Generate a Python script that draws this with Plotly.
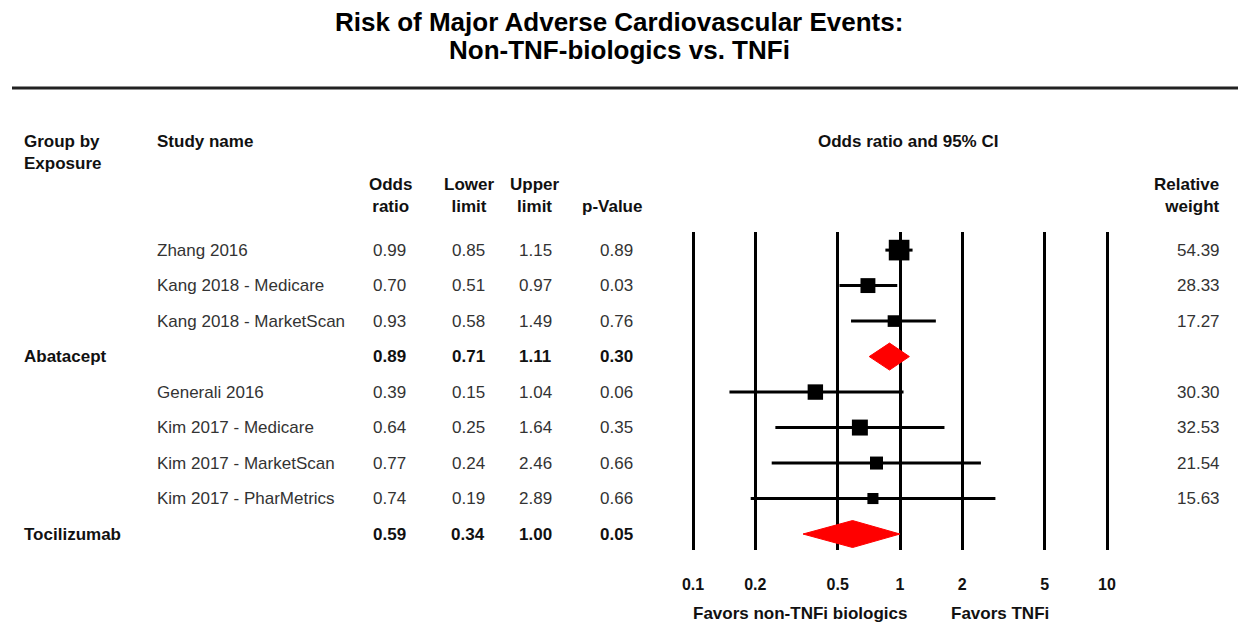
import plotly.graph_objects as go

# ---------------- data ----------------
groups = ["Abatacept", "Tocilizumab"]
group_or = [0.89, 0.59]
group_lo = [0.71, 0.34]
group_hi = [1.11, 1.00]
group_p = [0.30, 0.05]

studies = ["Zhang 2016", "Kang 2018 - Medicare", "Kang 2018 - MarketScan",
           "Generali 2016", "Kim 2017 - Medicare", "Kim 2017 - MarketScan",
           "Kim 2017 - PharMetrics"]
study_group = ["Abatacept", "Abatacept", "Abatacept",
               "Tocilizumab", "Tocilizumab", "Tocilizumab", "Tocilizumab"]
study_or = [0.99, 0.70, 0.93, 0.39, 0.64, 0.77, 0.74]
study_lo = [0.85, 0.51, 0.58, 0.15, 0.25, 0.24, 0.19]
study_hi = [1.15, 0.97, 1.49, 1.04, 1.64, 2.46, 2.89]
study_p = [0.89, 0.03, 0.76, 0.06, 0.35, 0.66, 0.66]
study_w = [54.39, 28.33, 17.27, 30.30, 32.53, 21.54, 15.63]

tick_vals = [0.1, 0.2, 0.5, 1, 2, 5, 10]
tick_text = ["0.1", "0.2", "0.5", "1", "2", "5", "10"]

# ---------------- layout constants ----------------
W, H = 1238, 625
PT, PB = 232, 550          # plot area top/bottom in px
FONT = "Liberation Sans, Arial, sans-serif"
TXT = "#333333"


def px(x):
    return x / W


def py(y):
    return (PB - y) / (PB - PT)


# build rows
rows = []  # (kind, index)
for g_i, g in enumerate(groups):
    for s_i, sg in enumerate(study_group):
        if sg == g:
            rows.append(("s", s_i))
    rows.append(("g", g_i))

fig = go.Figure()

# whiskers
wx, wy = [], []
mx, my, ms = [], [], []
for r, (kind, i) in enumerate(rows):
    if kind == "s":
        wx += [study_lo[i], study_hi[i], None]
        wy += [r, r, None]
        mx.append(study_or[i])
        my.append(r)
        ms.append(2.8 * study_w[i] ** 0.5)

fig.add_trace(go.Scatter(x=wx, y=wy, mode="lines",
                         line=dict(color="black", width=3),
                         hoverinfo="skip", showlegend=False))
fig.add_trace(go.Scatter(x=mx, y=my, mode="markers",
                         marker=dict(symbol="square", size=ms, color="black",
                                     opacity=1, line=dict(width=0)),
                         showlegend=False))

# diamonds
h = 0.38
for r, (kind, i) in enumerate(rows):
    if kind == "g":
        fig.add_trace(go.Scatter(
            x=[group_lo[i], group_or[i], group_hi[i], group_or[i], group_lo[i]],
            y=[r, r - h, r, r + h, r],
            mode="lines", fill="toself", fillcolor="#ff0000",
            line=dict(color="#ff0000", width=1),
            hoverinfo="skip", showlegend=False))

ann = []


def add(text, x, y, yref="paper", xanchor="center", size=17, bold=False,
        color=TXT, align="center"):
    if bold:
        text = "<b>" + text.replace("<br>", "</b><br><b>") + "</b>"
    ann.append(dict(text=text, x=x, y=y, xref="paper", yref=yref,
                    xanchor=xanchor, yanchor="middle", showarrow=False,
                    align=align,
                    font=dict(family=FONT, size=size, color=color)))


# title
add("Risk of Major Adverse Cardiovascular Events:", px(619), py(22), size=26,
    bold=True, color="black")
add("Non-TNF-biologics vs. TNFi", px(619), py(50), size=26, bold=True,
    color="black")

# headers
add("Group by<br>Exposure", px(22), py(152), xanchor="left", bold=True,
    color="#111", align="left")
add("Study name", px(155), py(141), xanchor="left", bold=True, color="#111")
add("Odds<br>ratio", px(390), py(195.5), bold=True, color="#111")
add("Lower<br>limit", px(469), py(195.5), bold=True, color="#111")
add("Upper<br>limit", px(535), py(195.5), bold=True, color="#111")
add("p-Value", px(612), py(207), bold=True, color="#111")
add("Odds ratio and 95% CI", px(908), py(141), bold=True, color="#111")
add("Relative<br>weight", px(1222), py(195.5), xanchor="right", bold=True,
    color="#111", align="right")

# rows
for r, (kind, i) in enumerate(rows):
    if kind == "s":
        vals = [study_or[i], study_lo[i], study_hi[i], study_p[i]]
        add(studies[i], px(155), r, yref="y", xanchor="left")
        add(f"{study_w[i]:.2f}", px(1222), r, yref="y", xanchor="right")
        b = False
    else:
        vals = [group_or[i], group_lo[i], group_hi[i], group_p[i]]
        add(groups[i], px(22), r, yref="y", xanchor="left", bold=True,
            color="#111")
        b = True
    for v, cx in zip(vals, [389, 468, 535, 616]):
        add(f"{v:.2f}", px(cx), r, yref="y", bold=b, color="#111" if b else TXT)

# axis captions
add("Favors non-TNFi biologics", px(800), py(613), bold=True, color="#111")
add("Favors TNFi", px(1000), py(613), bold=True, color="#111")

nrows = len(rows)
fig.update_layout(
    width=W, height=H,
    margin=dict(l=0, r=0, t=PT, b=H - PB, pad=0),
    paper_bgcolor="white", plot_bgcolor="white",
    showlegend=False,
    annotations=ann,
    shapes=[dict(type="line", xref="paper", yref="paper",
                 x0=px(12), x1=1, y0=py(88), y1=py(88),
                 line=dict(color="#222", width=3))],
    xaxis=dict(type="log", domain=[px(680), px(1120)],
               range=[-1.0628, 1.0628],
               tickvals=tick_vals,
               ticktext=["<b>" + t + "</b>" for t in tick_text],
               tickfont=dict(family=FONT, size=16, color="#111"),
               showgrid=True, gridcolor="black", gridwidth=3,
               zeroline=False, showline=False, ticks="",
               ticklabelstandoff=23, fixedrange=True),
    yaxis=dict(range=[nrows - 1 + 0.45, -0.51], visible=False,
               showgrid=False, zeroline=False, fixedrange=True),
)

fig.write_html("out.html")
